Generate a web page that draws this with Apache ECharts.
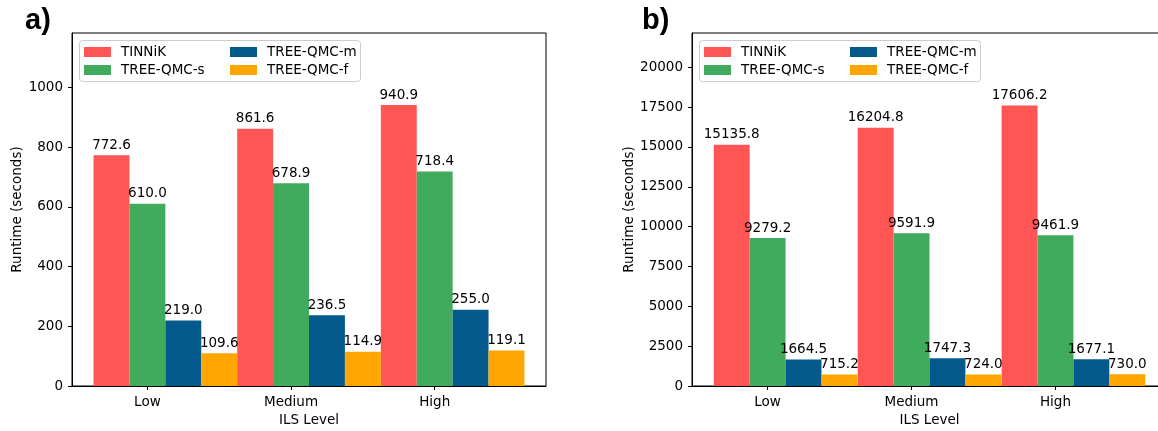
<!DOCTYPE html>
<html>
<head>
<meta charset="utf-8">
<script src="https://cdn.jsdelivr.net/npm/echarts@6/dist/echarts.min.js"></script>
<style>
html,body{margin:0;padding:0;background:#fff;}
#main{width:1158px;height:431px;}
</style>
</head>
<body>
<div id="main"></div>
<script>
// ---- data ----
const categories = ['Low', 'Medium', 'High'];
const seriesNames = ['TINNiK', 'TREE-QMC-s', 'TREE-QMC-m', 'TREE-QMC-f'];
const colors = ['#ff5555', '#41ab5d', '#045a8d', '#ffa500'];

const tinnikA = [772.6, 861.6, 940.9];
const qmcSA = [610.0, 678.9, 718.4];
const qmcMA = [219.0, 236.5, 255.0];
const qmcFA = [109.6, 114.9, 119.1];

const tinnikB = [15135.8, 16204.8, 17606.2];
const qmcSB = [9279.2, 9591.9, 9461.9];
const qmcMB = [1664.5, 1747.3, 1677.1];
const qmcFB = [715.2, 724.0, 730.0];

const yTicksA = [0, 200, 400, 600, 800, 1000];
const yTicksB = [0, 2500, 5000, 7500, 10000, 12500, 15000, 17500, 20000];

const panelTitles = ['a)', 'b)'];
const xAxisTitle = 'ILS Level';
const yAxisTitle = 'Runtime (seconds)';

// ---- layout ----
const FONT = 'DejaVu Sans';
const FS = 13.5;
const xMin = -0.525, xMax = 2.775;   // matplotlib-style margins
const groupShift = 0.125;            // tick sits at 2nd bar's centre
const grids = [
  {left: 72, top: 33, width: 474, height: 353},
  {left: 692, top: 33, width: 475, height: 353}
];
const yMax = [1182, 22150];
const barW = grids[0].width / (xMax - xMin) * 0.25;

const dataA = [tinnikA, qmcSA, qmcMA, qmcFA];
const dataB = [tinnikB, qmcSB, qmcMB, qmcFB];

function xAxisFor(gi) {
  return {
    type: 'value', gridIndex: gi, min: xMin, max: xMax,
    name: xAxisTitle, nameLocation: 'middle', nameGap: 27,
    nameTextStyle: {fontFamily: FONT, fontSize: FS, color: '#000'},
    axisLine: {show: true, onZero: false, lineStyle: {color: '#000', width: 1}},
    axisTick: {show: true, inside: false, length: 4, lineStyle: {color: '#000'}, customValues: [0, 1, 2]},
    axisLabel: {
      show: true, margin: 9, fontFamily: FONT, fontSize: FS, color: '#000',
      customValues: [0, 1, 2],
      formatter: v => categories[Math.round(v)]
    },
    splitLine: {show: false}
  };
}
function yAxisFor(gi, ticks, max, gap) {
  return {
    type: 'value', gridIndex: gi, min: 0, max: max,
    name: yAxisTitle, nameLocation: 'middle', nameGap: gap,
    nameTextStyle: {fontFamily: FONT, fontSize: FS, color: '#000'},
    axisLine: {show: true, onZero: false, lineStyle: {color: '#000', width: 1}},
    axisTick: {show: true, inside: false, length: 4, lineStyle: {color: '#000'}, customValues: ticks},
    axisLabel: {show: true, margin: 9, fontFamily: FONT, fontSize: FS, color: '#000',
      customValues: ticks, formatter: v => String(v)},
    splitLine: {show: false}
  };
}

const series = [];
[dataA, dataB].forEach((panel, gi) => {
  panel.forEach((vals, si) => {
    series.push({
      type: 'bar', name: seriesNames[si],
      xAxisIndex: gi, yAxisIndex: gi,
      barWidth: barW, barGap: '0%',
      itemStyle: {color: colors[si]},
      label: {
        show: true, position: 'top', distance: 3,
        fontFamily: FONT, fontSize: FS, color: '#000',
        formatter: p => p.value[1].toFixed(1)
      },
      data: vals.map((v, i) => [i + groupShift, v])
    });
  });
});

function legendsFor(x0) {
  const common = {
    orient: 'vertical', top: 45, padding: 0, itemGap: 4,
    itemWidth: 27, itemHeight: 10, icon: 'rect',
    textStyle: {fontFamily: FONT, fontSize: FS, color: '#000', padding: [0, 0, 0, 5]},
    selectedMode: false
  };
  return [
    Object.assign({}, common, {left: x0 + 5, data: seriesNames.slice(0, 2)}),
    Object.assign({}, common, {left: x0 + 151, data: seriesNames.slice(2, 4)})
  ];
}

const titleStyle = {fontFamily: 'Liberation Sans', fontWeight: 'bold', fontSize: 29, color: '#000'};
const option = {
  backgroundColor: '#fff',
  animation: false,
  title: [
    {text: panelTitles[0], left: 25, top: 6, padding: 0, textStyle: titleStyle},
    {text: panelTitles[1], left: 642, top: 6, padding: 0, textStyle: titleStyle}
  ],
  grid: grids.map(g => Object.assign({show: true, borderColor: '#000', borderWidth: 1,
    backgroundColor: 'transparent', containLabel: false, outerBoundsMode: 'none'}, g)),
  xAxis: [xAxisFor(0), xAxisFor(1)],
  yAxis: [yAxisFor(0, yTicksA, yMax[0], 45), yAxisFor(1, yTicksB, yMax[1], 53)],
  legend: legendsFor(79).concat(legendsFor(699)),
  graphic: [
    {type: 'rect', z: 3, shape: {x: 79.5, y: 40.5, width: 281, height: 41, r: 3},
     style: {fill: 'rgba(255,255,255,0.8)', stroke: '#cccccc', lineWidth: 1}},
    {type: 'rect', z: 3, shape: {x: 699.5, y: 40.5, width: 281, height: 41, r: 3},
     style: {fill: 'rgba(255,255,255,0.8)', stroke: '#cccccc', lineWidth: 1}}
  ],
  series: series
};

const chart = echarts.init(document.getElementById('main'), null, {renderer: 'canvas'});
chart.setOption(option);
</script>
</body>
</html>
